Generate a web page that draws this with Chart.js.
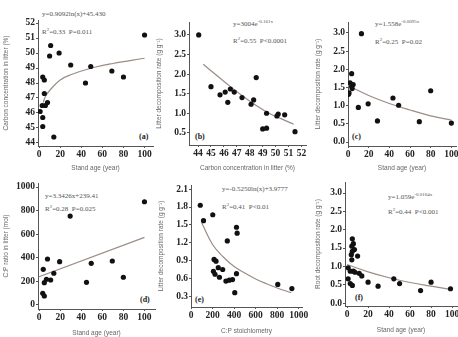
<!DOCTYPE html>
<html>
<head>
<meta charset="utf-8">
<script src="https://cdn.jsdelivr.net/npm/chart.js@4.4.0/dist/chart.umd.min.js"></script>
<style>
body { margin: 0; background: #fff; width: 458px; height: 337px; position: relative; overflow: hidden; }
canvas { position: absolute; }
.eq { position: absolute; font: 7px 'Liberation Serif'; color: #555; white-space: nowrap; line-height: 1; }
.eq sup { font-size: 5px; vertical-align: 3px; line-height: 0; }
.tag { position: absolute; font: bold 8px 'Liberation Serif'; color: #222; line-height: 1; }
</style>
</head>
<body>
<div class="eq" style="left:42px;top:11px">y=0.9092ln(x)+45.430</div>
<div class="eq" style="left:42px;top:29px">R<sup>2</sup>=0.33&nbsp;&nbsp;P=0.011</div>
<div class="eq" style="left:233px;top:21px">y=3004e<sup>-0.161x</sup></div>
<div class="eq" style="left:233px;top:38px">R<sup>2</sup>=0.55&nbsp;&nbsp;P&lt;0.0001</div>
<div class="eq" style="left:375px;top:21px">y=1.558e<sup>-0.0095x</sup></div>
<div class="eq" style="left:375px;top:39px">R<sup>2</sup>=0.25&nbsp;&nbsp;P=0.02</div>
<div class="eq" style="left:45px;top:193px">y=3.3426x+239.41</div>
<div class="eq" style="left:45px;top:206px">R<sup>2</sup>=0.28&nbsp;&nbsp;P=0.025</div>
<div class="eq" style="left:222px;top:186px">y=-0.5250ln(x)+3.9777</div>
<div class="eq" style="left:222px;top:204px">R<sup>2</sup>=0.41&nbsp;&nbsp;P&lt;0.01</div>
<div class="eq" style="left:388px;top:194px">y=1.059e<sup>-0.0104x</sup></div>
<div class="eq" style="left:388px;top:209px">R<sup>2</sup>=0.44&nbsp;&nbsp;P&lt;0.001</div>
<div class="tag" style="left:139px;top:133px">(a)</div>
<div class="tag" style="left:195px;top:133px">(b)</div>
<div class="tag" style="left:352px;top:133px">(c)</div>
<div class="tag" style="left:140px;top:296px">(d)</div>
<div class="tag" style="left:195px;top:296px">(e)</div>
<div class="tag" style="left:355px;top:294px">(f)</div>
<script>
// panel (a): stand age vs litter carbon
var ageA = [100, 11, 19, 10, 30, 49, 69, 80, 44, 3.5, 5, 5, 8, 6, 3, 1, 3.5, 3.5, 14];
var carbonA = [51.2, 50.5, 50.0, 49.8, 49.2, 49.1, 48.8, 48.4, 48.0, 48.4, 48.2, 47.3, 46.7, 46.5, 46.5, 46.1, 45.7, 45.1, 44.4];
var fitAx = [4, 6, 10, 20, 30, 50, 70, 100];
var fitAy = [46.7, 47.1, 47.5, 48.2, 48.55, 49.0, 49.3, 49.65];

// panel (b): litter carbon vs decomposition
var carbonB = [44.05, 45.0, 45.7, 46.1, 46.3, 46.5, 46.8, 47.4, 48.5, 48.1, 48.3, 49.3, 49.0, 49.3, 50.2, 50.1, 50.7, 51.5];
var decompB = [3.0, 1.68, 1.47, 1.54, 1.28, 1.62, 1.54, 1.40, 1.91, 1.23, 1.34, 1.0, 0.60, 0.62, 0.98, 0.93, 0.96, 0.53];
var fitBx = [44.4, 45.5, 46.5, 47.5, 48.5, 49.5, 50.5, 51.4];
var fitBy = [2.25, 1.95, 1.68, 1.43, 1.2, 1.0, 0.85, 0.72];

// panel (c): stand age vs decomposition
var ageC = [13, 3.5, 2, 5, 3.5, 4, 0.5, 1, 10, 19.5, 43.5, 49, 80, 28.5, 69, 100];
var decompC = [2.98, 1.88, 1.63, 1.58, 1.53, 1.47, 1.31, 1.35, 0.95, 1.05, 1.21, 1.01, 1.41, 0.58, 0.56, 0.52];
var fitCx = [0, 20, 40, 60, 80, 100];
var fitCy = [1.55, 1.28, 1.06, 0.88, 0.72, 0.60];

// panel (d): stand age vs C:P
var ageD = [100, 29.5, 8, 19.5, 49.5, 69.5, 4, 14, 7, 5, 11, 45, 80, 3.5, 5];
var ratioD = [875, 754, 390, 367, 353, 373, 302, 269, 218, 189, 212, 192, 235, 99, 76];
var fitDx = [0, 100];
var fitDy = [239, 573];

// panel (e): C:P vs decomposition
var ratioE = [86, 116, 202, 422, 428, 337, 214, 232, 253, 294, 208, 223, 264, 324, 355, 385, 422, 406, 805, 936];
var decompE = [1.83, 1.57, 1.67, 1.46, 1.36, 1.23, 0.92, 0.89, 0.78, 0.75, 0.72, 0.67, 0.62, 0.555, 0.57, 0.58, 0.68, 0.36, 0.50, 0.43];
var fitEx = [100, 200, 300, 400, 500, 600, 700, 800, 930];
var fitEy = [1.53, 1.17, 0.96, 0.80, 0.69, 0.59, 0.51, 0.44, 0.36];

// panel (f): stand age vs root decomposition
var ageF = [5, 6, 4.5, 7, 5, 4, 10, 4.5, 1, 3, 6, 7.5, 11.5, 14, 1, 3, 5, 20, 29.5, 44.5, 50, 70, 80, 98.5];
var decompF = [1.75, 1.62, 1.55, 1.46, 1.41, 1.32, 1.28, 1.18, 0.96, 0.87, 0.87, 0.84, 0.81, 0.74, 0.66, 0.53, 0.48, 0.57, 0.46, 0.66, 0.53, 0.34, 0.57, 0.39];
var fitFx = [0, 20, 40, 60, 80, 100];
var fitFy = [1.05, 0.85, 0.69, 0.56, 0.46, 0.37];

// tick labels
var ageTicks = [0, 20, 40, 60, 80, 100];
var carbonTicks = [44, 45, 46, 47, 48, 49, 50, 51, 52];
var carbonXTicks = [44, 45, 46, 47, 48, 49, 50, 51, 52];
var decompTicksB = [0.5, 1.0, 1.5, 2.0, 2.5, 3.0];
var decompTicks = [0.0, 0.5, 1.0, 1.5, 2.0, 2.5, 3.0];
var ratioTicks = [0, 200, 400, 600, 800, 1000];
var decompTicksE = [0.3, 0.6, 0.9, 1.2, 1.5, 1.8, 2.1];

var tickFont = { family: 'Liberation Serif', size: 9.5, weight: 'bold' };
var titleFont = { family: 'Liberation Sans', size: 6.5 };
var axisColor = '#555';
var lineColor = '#9b8c86';

function toPoints(xs, ys) {
    var pts = [];
    for (var i = 0; i < xs.length; i++) {
        pts.push({ x: xs[i], y: ys[i] });
    }
    return pts;
}

function makePanel(p) {
    var padT = 10, padR = 10;
    var canvas = document.createElement('canvas');
    var w = p.yW + (p.area[2] - p.area[0]) + padR;
    var h = padT + (p.area[3] - p.area[1]) + p.xH;
    canvas.width = w;
    canvas.height = h;
    canvas.style.left = (p.area[0] - p.yW) + 'px';
    canvas.style.top = (p.area[1] - padT) + 'px';
    document.body.appendChild(canvas);

    new Chart(canvas, {
        type: 'scatter',
        data: {
            datasets: [{
                data: toPoints(p.px, p.py),
                backgroundColor: '#111',
                borderWidth: 0,
                pointRadius: 2.6
            }, {
                type: 'line',
                data: toPoints(p.cx, p.cy),
                borderColor: lineColor,
                borderWidth: 1.2,
                pointRadius: 0,
                tension: p.tension,
                fill: false
            }]
        },
        options: {
            responsive: false,
            animation: false,
            devicePixelRatio: 1,
            layout: { padding: { top: padT, right: padR, bottom: 0, left: 0 } },
            plugins: { legend: { display: false }, tooltip: { enabled: false } },
            scales: {
                x: {
                    type: 'linear',
                    min: p.xRange[0],
                    max: p.xRange[1],
                    afterBuildTicks: function (s) { s.ticks = p.xTicks.map(function (v) { return { value: v }; }); },
                    afterFit: function (s) { s.height = p.xH; },
                    ticks: {
                        font: tickFont, color: '#222', padding: 1, autoSkip: false, maxRotation: 0,
                        callback: function (v) { return v; }
                    },
                    grid: { display: true, drawOnChartArea: false, tickLength: 2, color: axisColor },
                    border: { color: axisColor, width: 1 },
                    title: { display: true, text: p.xTitle, font: titleFont, color: '#666', padding: { top: 1, bottom: 0 } }
                },
                y: {
                    type: 'linear',
                    min: p.yRange[0],
                    max: p.yRange[1],
                    afterBuildTicks: function (s) { s.ticks = p.yTicks.map(function (v) { return { value: v }; }); },
                    afterFit: function (s) { s.width = p.yW; },
                    ticks: {
                        font: tickFont, color: '#222', padding: 1, autoSkip: false,
                        callback: function (v) { return v.toFixed(p.yDec); }
                    },
                    grid: { display: true, drawOnChartArea: false, tickLength: 2, color: axisColor },
                    border: { color: axisColor, width: 1 },
                    title: { display: true, text: p.yTitle, font: titleFont, color: '#666', padding: { top: 2, bottom: 2 } }
                }
            }
        }
    });
}

makePanel({
    area: [38, 20, 153, 146], yW: 38, xH: 26,
    xRange: [-1, 108], yRange: [43.8, 52.2], xTicks: ageTicks, yTicks: carbonTicks, yDec: 0,
    xTitle: 'Stand age (year)', yTitle: 'Carbon concentration in litter (%)',
    px: ageA, py: carbonA, cx: fitAx, cy: fitAy, tension: 0.4
});
makePanel({
    area: [189, 22, 306, 145], yW: 36, xH: 27,
    xRange: [43.3, 52.35], yRange: [0.19, 3.33], xTicks: carbonXTicks, yTicks: decompTicksB, yDec: 1,
    xTitle: 'Carbon concentration in litter (%)', yTitle: 'Litter decomposition rate (g g⁻¹)',
    px: carbonB, py: decompB, cx: fitBx, cy: fitBy, tension: 0.4
});
makePanel({
    area: [348, 22, 456, 146], yW: 36, xH: 26,
    xRange: [0, 104.5], yRange: [-0.11, 3.3], xTicks: ageTicks, yTicks: decompTicks, yDec: 1,
    xTitle: 'Stand age (year)', yTitle: 'Litter decomposition rate (g g⁻¹)',
    px: ageC, py: decompC, cx: fitCx, cy: fitCy, tension: 0.4
});
makePanel({
    area: [38, 183, 155, 309], yW: 38, xH: 28,
    xRange: [-1, 110], yRange: [-34, 1034], xTicks: ageTicks, yTicks: ratioTicks, yDec: 0,
    xTitle: 'Stand age (year)', yTitle: 'C:P ratio in litter (mol)',
    px: ageD, py: ratioD, cx: fitDx, cy: fitDy, tension: 0
});
makePanel({
    area: [191, 185, 302, 307], yW: 36, xH: 28,
    xRange: [0, 1030], yRange: [0.12, 2.17], xTicks: ratioTicks, yTicks: decompTicksE, yDec: 1,
    xTitle: 'C:P stoichiometry', yTitle: 'Litter decomposition rate (g g⁻¹)',
    px: ratioE, py: decompE, cx: fitEx, cy: fitEy, tension: 0.4
});
makePanel({
    area: [345, 182, 457, 306], yW: 33, xH: 28,
    xRange: [-2, 104.7], yRange: [-0.08, 3.3], xTicks: ageTicks, yTicks: decompTicks, yDec: 1,
    xTitle: 'Stand age (year)', yTitle: 'Root decomposition rate (g g⁻¹)',
    px: ageF, py: decompF, cx: fitFx, cy: fitFy, tension: 0.4
});
</script>
</body>
</html>
